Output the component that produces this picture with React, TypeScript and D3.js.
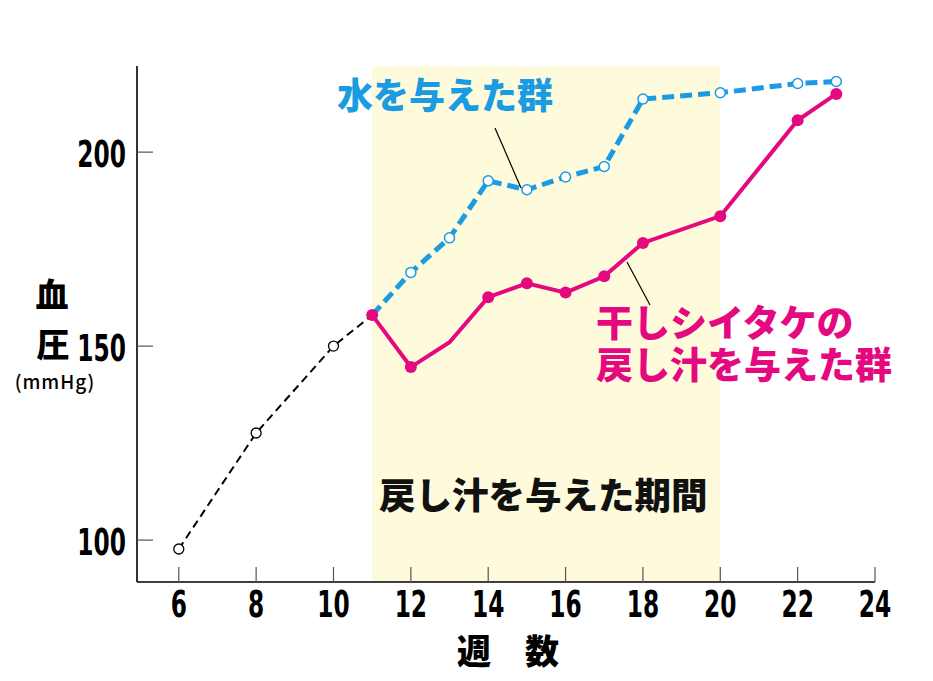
import React from 'react'
import * as d3 from 'd3'

const WEEK_TICKS = [6, 8, 10, 12, 14, 16, 18, 20, 22, 24]
const BP_TICKS = [100, 150, 200]

// before the period (black dashed)
const preWeeks = [6, 8, 10, 11]
const preBP = [97.7, 127.6, 150, 158]

// shiitake broth group (pink)
const brothWeeks = [11, 12, 13, 14, 15, 16, 17, 18, 20, 22, 23]
const brothBP = [158, 144.6, 151, 162.6, 166.2, 163.8, 168, 176.6, 183.5, 208.2, 215]
const brothMarked = [true, true, false, true, true, true, true, true, true, true, true]

// water group (blue)
const waterWeeks = [11, 12, 13, 14, 15, 16, 17, 18, 20, 22, 23]
const waterBP = [158, 169, 177.9, 192.6, 190.3, 193.6, 196.3, 213.7, 215.3, 217.7, 218.2]

const PERIOD = [11, 20]

const BLUE = '#1a9be2'
const PINK = '#e4097f'
const JP = '"Noto Sans CJK JP", sans-serif'
const NUM = '"DejaVu Sans", sans-serif'

export default function App() {
  const W = 933, H = 681
  const x = d3.scaleLinear().domain([4.92, 24]).range([137, 875])
  const y = d3.scaleLinear().domain([89.2, 222.2]).range([582, 66])
  const line = d3.line<[number, number]>().x(d => x(d[0])).y(d => y(d[1]))
  const pre = preWeeks.map((w, i) => [w, preBP[i]] as [number, number])
  const broth = brothWeeks.map((w, i) => [w, brothBP[i]] as [number, number])
  const water = waterWeeks.map((w, i) => [w, waterBP[i]] as [number, number])
  const [y0, y1] = y.range()

  return (
    <svg width={W} height={H} style={{ position: 'absolute', left: 0, top: 0, background: '#fff' }}>
      <rect x={x(PERIOD[0])} y={y1} width={x(PERIOD[1]) - x(PERIOD[0])} height={y0 - y1} fill="#fefadc" />

      {/* axes */}
      <line x1={137} x2={137} y1={y1} y2={y0} stroke="#000" strokeWidth={1.6} />
      <line x1={137} x2={x(24)} y1={y0} y2={y0} stroke="#000" strokeWidth={1.6} />
      {WEEK_TICKS.map(t => (
        <g key={t}>
          <line x1={x(t)} x2={x(t)} y1={567} y2={y0} stroke="#555" strokeWidth={1.2} />
          <text transform={`translate(${x(t)},617) scale(0.63,1)`} textAnchor="middle"
            fontFamily={NUM} fontWeight={700} fontSize={37}>{t}</text>
        </g>
      ))}
      {BP_TICKS.map(t => (
        <g key={t}>
          <line x1={137} x2={153} y1={y(t)} y2={y(t)} stroke="#555" strokeWidth={1.2} />
          <text transform={`translate(126,${y(t) + 15}) scale(0.63,1)`} textAnchor="end"
            fontFamily={NUM} fontWeight={700} fontSize={37}>{t}</text>
        </g>
      ))}

      {/* lines */}
      <path d={line(pre) || ''} fill="none" stroke="#000" strokeWidth={2} strokeDasharray="8 5" />
      <path d={line(water) || ''} fill="none" stroke={BLUE} strokeWidth={5} strokeDasharray="12 6" />
      <path d={line(broth) || ''} fill="none" stroke={PINK} strokeWidth={4} />
      {pre.slice(0, 3).map((d, i) => (
        <circle key={i} cx={x(d[0])} cy={y(d[1])} r={5} fill="#fff" stroke="#000" strokeWidth={1.3} />
      ))}
      {water.slice(1).map((d, i) => (
        <circle key={i} cx={x(d[0])} cy={y(d[1])} r={5} fill="#fff" stroke={BLUE} strokeWidth={1.5} />
      ))}
      {broth.map((d, i) => brothMarked[i] ? (
        <circle key={i} cx={x(d[0])} cy={y(d[1])} r={6} fill={PINK} />
      ) : null)}

      {/* leader lines */}
      <line x1={495} y1={128} x2={521} y2={188} stroke="#000" strokeWidth={1.2} />
      <line x1={627} y1={262} x2={650} y2={305} stroke="#000" strokeWidth={1.2} />

      {/* labels */}
      <text x={337} y={109} fontFamily={JP} fontWeight={900} fontSize={36} fill={BLUE}>水を与えた群</text>
      <text fontFamily={JP} fontWeight={900} fontSize={37} fill={PINK}>
        <tspan x={596} y={337}>干しシイタケの</tspan>
        <tspan x={596} y={379}>戻し汁を与えた群</tspan>
      </text>
      <text x={379} y={509} fontFamily={JP} fontWeight={900} fontSize={36.5} fill="#111">戻し汁を与えた期間</text>

      <text x={52} y={307} textAnchor="middle" fontFamily={JP} fontWeight={900} fontSize={33}>血</text>
      <text x={53} y={357} textAnchor="middle" fontFamily={JP} fontWeight={900} fontSize={33}>圧</text>
      <text x={55} y={389} textAnchor="middle" fontFamily={JP} fontWeight={500} fontSize={19} letterSpacing={1}>(mmHg)</text>
      <text x={508} y={664} textAnchor="middle" fontFamily={JP} fontWeight={900} fontSize={34}>週　数</text>
    </svg>
  )
}
